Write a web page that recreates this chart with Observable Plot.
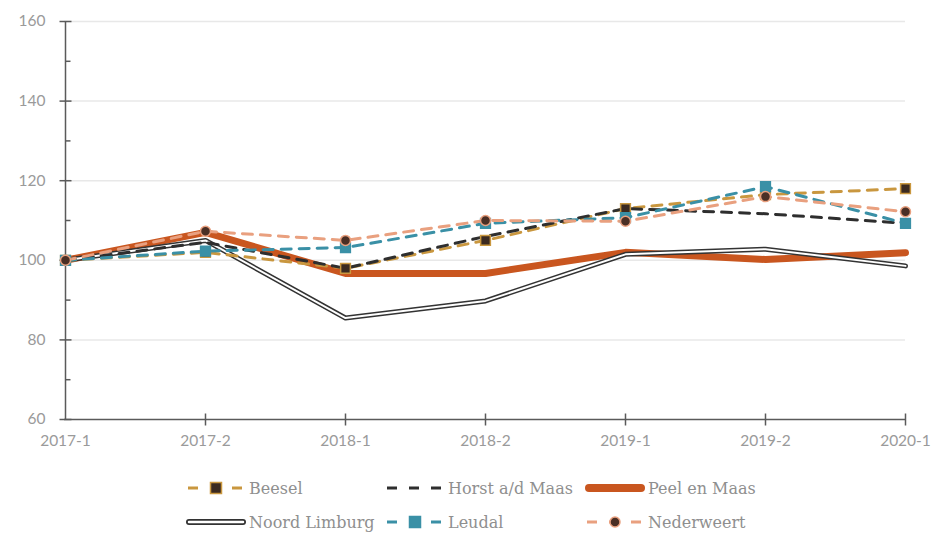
<!DOCTYPE html>
<html>
<head>
<meta charset="utf-8">
<script src="https://cdn.jsdelivr.net/npm/d3@7"></script>
<script src="https://cdn.jsdelivr.net/npm/@observablehq/plot@0.6"></script>
<style>
  body { margin: 0; background: #fff; width: 935px; height: 533px; position: relative; overflow: hidden; }
  #chart { position: absolute; left: 0; top: 0; }
  .leg { position: absolute; display: flex; align-items: center; font-family: "DejaVu Serif", serif; font-size: 16px; color: #8f8f8f; white-space: nowrap; }
  .leg svg { margin-right: 3px; }
</style>
</head>
<body>
<div id="chart"></div>
<div id="legend"></div>
<script>
const periods = ["2017-1", "2017-2", "2018-1", "2018-2", "2019-1", "2019-2", "2020-1"];
const beesel     = [100, 102.0, 98.0, 105.0, 113.0, 116.5, 118.0];
const horst      = [100, 104.5, 98.0, 106.0, 113.0, 111.7, 109.3];
const peel       = [100, 107.0, 96.7, 96.7, 102.0, 100.2, 101.9];
const noord      = [100, 105.0, 85.5, 89.8, 101.5, 102.8, 98.6];
const leudal     = [100, 102.3, 103.2, 109.3, 110.7, 118.5, 109.3];
const nederweert = [100, 107.3, 105.0, 110.0, 109.8, 116.0, 112.2];
const yTicks = [60, 80, 100, 120, 140, 160];
const yMinor = [70, 90, 110, 130, 150];

const rows = (arr) => periods.map((p, i) => ({period: p, value: arr[i]}));

const hline = {draw(ctx, size) { const r = Math.sqrt(size / Math.PI); ctx.moveTo(-r, 0); ctx.lineTo(r, 0); }};
const vline = {draw(ctx, size) { const r = Math.sqrt(size / Math.PI); ctx.moveTo(0, -r); ctx.lineTo(0, r); }};

const C = {beesel: "#c9973f", horst: "#2e2e2e", peel: "#c9561f", leudal: "#3a90a6", ned: "#e9a07f", dark: "#3b2a20", axis: "#5a5a5a"};

const chart = Plot.plot({
  width: 935, height: 455,
  marginLeft: 64, marginRight: 30, marginTop: 21, marginBottom: 36,
  x: {type: "point", domain: periods, padding: 0, label: null},
  y: {domain: [60, 160], label: null},
  style: {fontFamily: "Lato, sans-serif", fontSize: "15px", color: "#9a9a9a", background: "#fff"},
  marks: [
    Plot.ruleY(yTicks.slice(1), {stroke: "#e8e8e8", strokeWidth: 1.5}),
    Plot.axisY({ticks: yTicks, tickSize: 0, tickPadding: 19, fill: "#9a9a9a", fontSize: 15.5, label: null}),
    Plot.axisX({tickSize: 0, tickPadding: 15, fill: "#9a9a9a", fontSize: 15.5, label: null}),
    Plot.ruleX([periods[0]], {y1: 60, y2: 160, stroke: C.axis, strokeWidth: 1.5}),
    Plot.ruleY([60], {stroke: C.axis, strokeWidth: 1.5}),
    Plot.dot(yTicks, {x: () => periods[0], y: d => d, symbol: hline, r: 6, stroke: C.axis, strokeWidth: 1.5}),
    Plot.dot(yMinor, {x: () => periods[0], y: d => d, symbol: hline, r: 2.5, dx: 2.5, stroke: C.axis, strokeWidth: 1.5}),
    Plot.dot(periods.slice(1), {x: d => d, y: () => 60, symbol: vline, r: 6, stroke: C.axis, strokeWidth: 1.5}),
    // solid lines
    Plot.line(rows(peel), {x: "period", y: "value", stroke: C.peel, strokeWidth: 7}),
    Plot.line(rows(noord), {x: "period", y: "value", stroke: "#333", strokeWidth: 5}),
    Plot.line(rows(noord), {x: "period", y: "value", stroke: "#fff", strokeWidth: 2}),
    // dashed lines
    Plot.line(rows(beesel), {x: "period", y: "value", stroke: C.beesel, strokeWidth: 3, strokeDasharray: "10,8"}),
    Plot.line(rows(horst), {x: "period", y: "value", stroke: C.horst, strokeWidth: 3, strokeDasharray: "10,8"}),
    Plot.line(rows(leudal), {x: "period", y: "value", stroke: C.leudal, strokeWidth: 3, strokeDasharray: "10,8"}),
    Plot.line(rows(nederweert), {x: "period", y: "value", stroke: C.ned, strokeWidth: 3, strokeDasharray: "10,8"}),
    // markers
    Plot.dot(rows(beesel), {x: "period", y: "value", symbol: "square", r: 5.5, fill: C.dark, stroke: C.beesel, strokeWidth: 1.5}),
    Plot.dot(rows(leudal), {x: "period", y: "value", symbol: "square", r: 5.5, fill: C.leudal, stroke: C.leudal, strokeWidth: 1.5}),
    Plot.dot(rows(nederweert), {x: "period", y: "value", symbol: "circle", r: 5, fill: "#4a2f25", stroke: C.ned, strokeWidth: 1.5})
  ]
});
document.getElementById("chart").appendChild(chart);

// legend
const legendItems = [
  {name: "Beesel", x: 186, y: 488, kind: "dash", color: C.beesel, marker: "square", mfill: C.dark},
  {name: "Horst a/d Maas", x: 385, y: 488, kind: "dash", color: C.horst},
  {name: "Peel en Maas", x: 585, y: 488, kind: "thick", color: C.peel},
  {name: "Noord Limburg", x: 186, y: 522, kind: "double", color: "#333"},
  {name: "Leudal", x: 385, y: 522, kind: "dash", color: C.leudal, marker: "square", mfill: C.leudal},
  {name: "Nederweert", x: 585, y: 522, kind: "dash", color: C.ned, marker: "circle", mfill: "#4a2f25"}
];
const leg = document.getElementById("legend");
const ns = "http://www.w3.org/2000/svg";
for (const it of legendItems) {
  const div = document.createElement("div");
  div.className = "leg";
  div.style.left = it.x + "px";
  div.style.top = (it.y - 12) + "px";
  div.style.height = "24px";
  const svg = document.createElementNS(ns, "svg");
  svg.setAttribute("width", 60); svg.setAttribute("height", 24);
  let html = "";
  if (it.kind === "dash") {
    html += `<line x1="2" x2="58" y1="12" y2="12" stroke="${it.color}" stroke-width="3" stroke-dasharray="10,12"/>`;
  } else if (it.kind === "thick") {
    html += `<line x1="4" x2="56" y1="12" y2="12" stroke="${it.color}" stroke-width="8" stroke-linecap="round"/>`;
  } else {
    html += `<line x1="3" x2="57" y1="12" y2="12" stroke="${it.color}" stroke-width="6" stroke-linecap="round"/>`;
    html += `<line x1="3" x2="57" y1="12" y2="12" stroke="#fff" stroke-width="2.5" stroke-linecap="round"/>`;
  }
  if (it.marker === "square") {
    html += `<rect x="24.5" y="6.5" width="11" height="11" fill="${it.mfill}" stroke="${it.color}" stroke-width="1.5"/>`;
  } else if (it.marker === "circle") {
    html += `<circle cx="30" cy="12" r="5" fill="${it.mfill}" stroke="${it.color}" stroke-width="1.5"/>`;
  }
  svg.innerHTML = html;
  div.appendChild(svg);
  const span = document.createElement("span");
  span.textContent = it.name;
  div.appendChild(span);
  leg.appendChild(div);
}
</script>
</body>
</html>
